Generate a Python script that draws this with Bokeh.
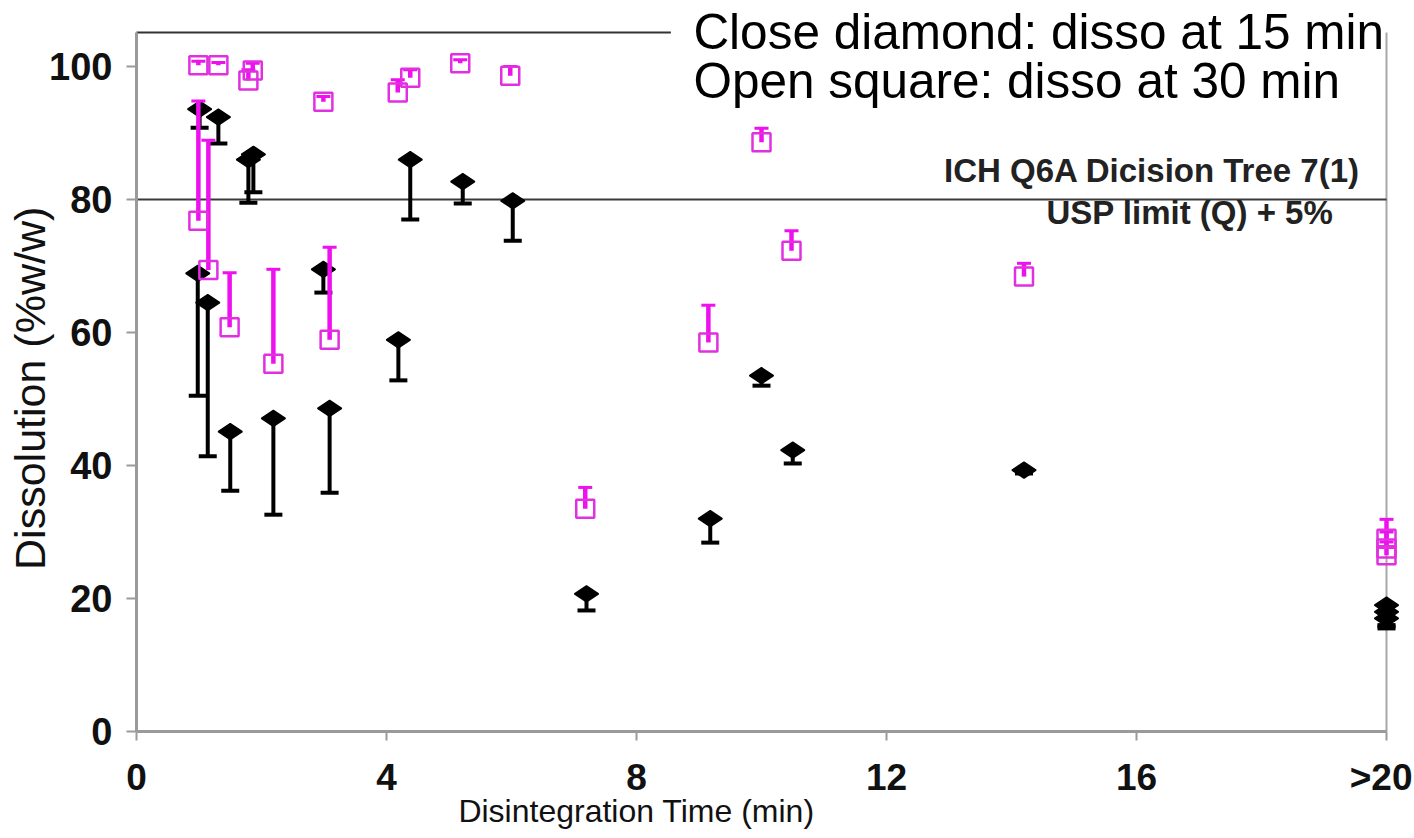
import math
from bokeh.plotting import figure
from bokeh.models import Range1d, LinearAxis, FixedTicker, Label
from bokeh.embed import file_html
from bokeh.resources import INLINE

# ---- data: dissolution at 15 min (closed diamonds), lower error bars ----
d15_time = [1.01, 1.31, 1.87, 1.79, 4.38, 5.22, 6.02, 0.98, 1.14, 1.50, 2.19,
            2.99, 3.09, 4.19, 7.20, 9.18, 10.00, 10.50, 14.20, 20.0, 20.0, 20.0]
d15_diss = [93.6, 92.4, 86.8, 86.0, 86.0, 82.7, 79.8, 68.9, 64.5, 45.1, 47.1,
            69.5, 48.6, 58.9, 20.7, 32.0, 53.5, 42.3, 39.3, 19.0, 18.0, 17.0]
d15_low = [90.8, 88.4, 81.1, 79.5, 77.0, 79.4, 73.8, 50.5, 41.4, 36.2, 32.6,
           66.0, 35.9, 52.8, 18.2, 28.4, 52.0, 40.3, 38.8, 16.0, 15.8, 15.5]

# ---- data: dissolution at 30 min (open squares), upper error bars ----
d30_time = [0.99, 1.31, 1.86, 1.79, 2.99, 4.18, 4.38, 5.18, 5.98, 0.99, 1.15,
            1.49, 2.19, 3.09, 7.18, 9.15, 10.00, 10.48, 14.20, 20.0, 20.0, 20.0]
d30_diss = [100.2, 100.2, 99.4, 97.9, 94.7, 96.1, 98.3, 100.5, 98.6, 76.8, 69.4,
            60.8, 55.3, 58.9, 33.5, 58.5, 88.6, 72.3, 68.4, 29.0, 27.5, 26.5]
d30_high = [100.8, 100.6, 100.5, 99.5, 95.5, 98.0, 99.5, 101.0, 100.0, 94.8, 88.9,
            69.0, 69.5, 72.8, 36.7, 64.1, 90.7, 75.3, 70.4, 31.9, 30.0, 28.5]

x_ticks = [0, 4, 8, 12, 16, 20]
x_tick_labels = ["0", "4", "8", "12", "16", ">20"]
y_ticks = [0, 20, 40, 60, 80, 100]
limit_value = 80
y_top = 105.1          # top of the plotting box
box_text_start = 8.55  # where the legend text box hides the top border

FONT = "Liberation Sans"
MAGENTA = "#ee11ee"
AXIS_GREY = "#9a9a9a"

p = figure(width=1412, height=836, output_backend="svg", toolbar_location=None,
           x_range=Range1d(-2.176, 20.416), y_range=Range1d(-15.79, 109.92),
           x_axis_location=None, y_axis_location=None, min_border=0,
           min_border_left=0, min_border_right=0, min_border_top=0, min_border_bottom=0)
p.outline_line_color = None
p.grid.visible = False
p.background_fill_color = "white"
p.border_fill_color = "white"

# bottom axis (fixed at y = 0)
xa = LinearAxis(fixed_location=0, ticker=FixedTicker(ticks=x_ticks),
                bounds=(x_ticks[0], x_ticks[-1]))
xa.major_label_overrides = {t: l for t, l in zip(x_ticks, x_tick_labels)}
xa.axis_line_color = AXIS_GREY
xa.axis_line_width = 3
xa.major_tick_line_color = AXIS_GREY
xa.major_tick_line_width = 2
xa.major_tick_out = 9
xa.major_tick_in = 0
xa.minor_tick_out = 0
xa.minor_tick_in = 0
xa.major_label_text_font = FONT
xa.major_label_text_font_style = "bold"
xa.major_label_text_font_size = "37px"
xa.major_label_text_color = "#111111"
xa.major_label_standoff = 17
p.add_layout(xa, "below")

# left axis (fixed at x = 0)
ya = LinearAxis(fixed_location=0, ticker=FixedTicker(ticks=y_ticks),
                bounds=(0, y_top))
ya.axis_line_color = AXIS_GREY
ya.axis_line_width = 3
ya.major_tick_line_color = AXIS_GREY
ya.major_tick_line_width = 2
ya.major_tick_out = 10
ya.major_tick_in = 0
ya.minor_tick_out = 0
ya.minor_tick_in = 0
ya.major_label_text_font = FONT
ya.major_label_text_font_style = "bold"
ya.major_label_text_font_size = "38px"
ya.major_label_text_color = "#111111"
ya.major_label_standoff = 14
p.add_layout(ya, "left")

# box border lines: top (partly hidden by the text box) and right
p.segment(x0=[0], x1=[box_text_start], y0=[y_top], y1=[y_top],
          line_color="#333333", line_width=2)
p.segment(x0=[x_ticks[-1]], x1=[x_ticks[-1]], y0=[0], y1=[y_top],
          line_color="#a8a8a8", line_width=2)

# limit line
p.segment(x0=[x_ticks[0]], x1=[x_ticks[-1]], y0=[limit_value], y1=[limit_value],
          line_color="#3a3a3a", line_width=2)

# 15 min series
p.segment(x0=d15_time, x1=d15_time, y0=d15_diss, y1=d15_low,
          line_color="black", line_width=4)
p.scatter(d15_time, d15_low, marker="dash", size=18, line_width=4, line_color="black")
p.scatter(d15_time, d15_diss, marker="diamond", size=24, angle=math.pi / 2,
          fill_color="black", line_color="black", line_width=1.5)

# 30 min series
p.segment(x0=d30_time, x1=d30_time, y0=d30_diss, y1=d30_high,
          line_color=MAGENTA, line_width=4.5)
p.scatter(d30_time, d30_high, marker="dash", size=14, line_width=3, line_color=MAGENTA)
p.scatter(d30_time, d30_diss, marker="square", size=18, fill_alpha=0,
          line_color="#e030e0", line_width=2.5)

# annotations
p.add_layout(Label(x=8.91, y=105.26, text="Close diamond: disso at 15 min",
                   text_font=FONT, text_font_size="49.5px", text_color="black",
                   text_baseline="alphabetic", text_align="left"))
p.add_layout(Label(x=8.91, y=97.9, text="Open square: disso at 30 min",
                   text_font=FONT, text_font_size="49.5px", text_color="black",
                   text_baseline="alphabetic", text_align="left"))
p.add_layout(Label(x=19.58, y=84.3, text="ICH Q6A Dicision Tree 7(1)",
                   text_font=FONT, text_font_size="33px", text_font_style="bold",
                   text_color="#222222", text_baseline="alphabetic", text_align="right"))
p.add_layout(Label(x=19.15, y=77.97, text="USP limit (Q) + 5%",
                   text_font=FONT, text_font_size="33px", text_font_style="bold",
                   text_color="#222222", text_baseline="alphabetic", text_align="right"))
p.add_layout(Label(x=8.0, y=-11.9, text="Disintegration Time (min)",
                   text_font=FONT, text_font_size="32px", text_color="#111111",
                   text_baseline="alphabetic", text_align="center"))
p.add_layout(Label(x=-1.70, y=51.6, text="Dissolution (%w/w)", angle=math.pi / 2,
                   text_font=FONT, text_font_size="43px", text_color="#111111",
                   text_baseline="alphabetic", text_align="center"))

open("out.html", "w").write(file_html(p, INLINE))
